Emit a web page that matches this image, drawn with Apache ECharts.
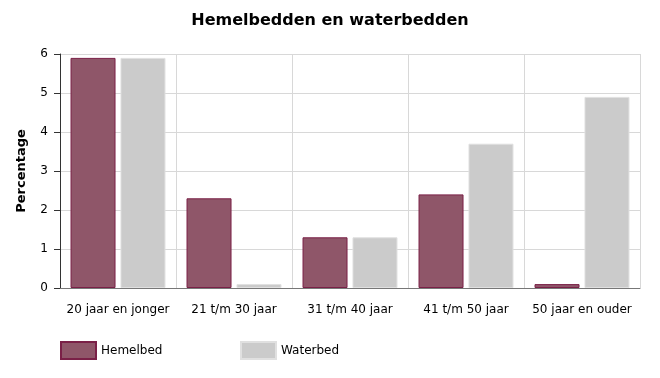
<!DOCTYPE html>
<html>
<head>
<meta charset="utf-8">
<script src="https://cdn.jsdelivr.net/npm/echarts@6/dist/echarts.min.js"></script>
<style>
  html, body { margin: 0; padding: 0; background: #fff; }
  #chart { width: 660px; height: 378px; }
</style>
</head>
<body>
<div id="chart"></div>
<script>
var categories = ['20 jaar en jonger', '21 t/m 30 jaar', '31 t/m 40 jaar', '41 t/m 50 jaar', '50 jaar en ouder']
var hemelbed = [5.9, 2.3, 1.3, 2.4, 0.1]
var waterbed = [5.9, 0.1, 1.3, 3.7, 4.9]

var font = 'DejaVu Sans'
var myChart = echarts.init(document.getElementById('chart'))
myChart.setOption({
    backgroundColor: '#fff',
    animation: false,
    title: {
        text: 'Hemelbedden en waterbedden',
        left: 'center',
        top: 8,
        textStyle: { fontFamily: font, fontSize: 16, fontWeight: 'bold', color: '#000' }
    },
    legend: [
        {
            data: ['Hemelbed'],
            left: 60, top: 341, padding: 0,
            icon: 'rect',
            itemWidth: 35, itemHeight: 17, itemGap: 5,
            textStyle: { fontFamily: font, fontSize: 12, color: '#000' }
        },
        {
            data: ['Waterbed'],
            left: 240, top: 341, padding: 0,
            icon: 'rect',
            itemWidth: 35, itemHeight: 17, itemGap: 5,
            textStyle: { fontFamily: font, fontSize: 12, color: '#000' }
        }
    ],
    grid: { left: 60, right: 20, top: 54, bottom: 90, containLabel: false },
    xAxis: {
        type: 'category',
        data: categories,
        axisLine: { lineStyle: { color: '#777', width: 1 } },
        axisTick: { alignWithLabel: true, interval: 0, length: 4, lineStyle: { color: '#777' } },
        axisLabel: { interval: 0, fontFamily: font, fontSize: 12, color: '#000', margin: 16 },
        splitLine: { show: true, interval: 0, lineStyle: { color: '#d8d8d8' } }
    },
    yAxis: {
        type: 'value',
        min: 0, max: 6, interval: 1,
        name: 'Percentage',
        nameLocation: 'middle',
        nameGap: 32,
        nameTextStyle: { fontFamily: font, fontSize: 13, fontWeight: 'bold', color: '#000' },
        axisLine: { show: true, lineStyle: { color: '#333', width: 1 } },
        axisTick: { show: true, length: 6, lineStyle: { color: '#333' } },
        axisLabel: { fontFamily: font, fontSize: 12, color: '#000', margin: 12 },
        splitLine: { show: true, lineStyle: { color: '#d8d8d8' } }
    },
    series: [
        {
            name: 'Hemelbed',
            type: 'bar',
            data: hemelbed,
            barWidth: 45,
            barGap: '11%',
            itemStyle: { color: '#8f5669', borderColor: '#7a2047', borderWidth: 1 }
        },
        {
            name: 'Waterbed',
            type: 'bar',
            data: waterbed,
            barWidth: 45,
            itemStyle: { color: '#cbcbcb', borderColor: '#e0e0e0', borderWidth: 1 }
        }
    ]
}, true)
</script>
</body>
</html>
